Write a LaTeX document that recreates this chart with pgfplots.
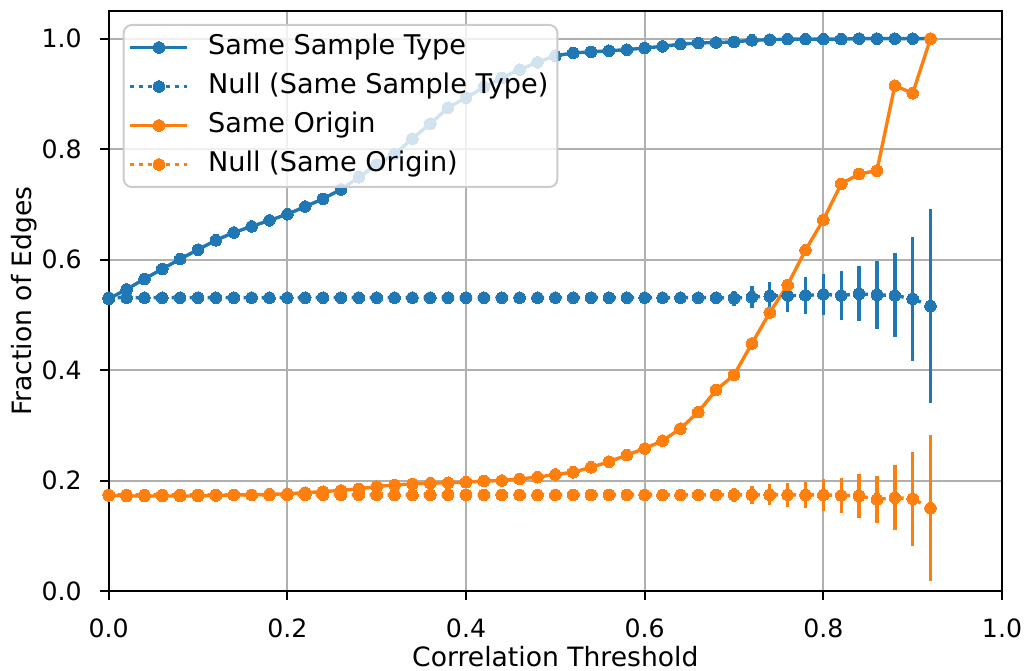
\documentclass[border=0pt]{standalone}
\usepackage{fontspec}
\setmainfont{DejaVu Sans}
\usepackage{pgfplots}
\usepackage{pgfplotstable}
\pgfplotsset{compat=1.18}
\definecolor{c0}{HTML}{1F77B4}
\definecolor{c1}{HTML}{FF7F0E}
\definecolor{gridc}{HTML}{B0B0B0}

% Same Sample Type
\pgfplotstableread{
x y
0.00 0.529
0.02 0.546
0.04 0.565
0.06 0.583
0.08 0.601
0.10 0.618
0.12 0.635
0.14 0.649
0.16 0.660
0.18 0.671
0.20 0.682
0.22 0.696
0.24 0.710
0.26 0.727
0.28 0.749
0.30 0.772
0.32 0.791
0.34 0.819
0.36 0.846
0.38 0.875
0.40 0.893
0.42 0.912
0.44 0.929
0.46 0.944
0.48 0.957
0.50 0.969
0.52 0.974
0.54 0.976
0.56 0.978
0.58 0.980
0.60 0.983
0.62 0.986
0.64 0.990
0.66 0.992
0.68 0.993
0.70 0.994
0.72 0.997
0.74 0.998
0.76 0.999
0.78 0.999
0.80 0.999
0.82 0.999
0.84 1.000
0.86 1.000
0.88 1.000
0.90 1.000
0.92 1.000
}\sst

% Null (Same Sample Type)
\pgfplotstableread{
x y e
0.00 0.531 0.001
0.02 0.531 0.001
0.04 0.531 0.001
0.06 0.531 0.001
0.08 0.531 0.001
0.10 0.531 0.001
0.12 0.531 0.001
0.14 0.531 0.001
0.16 0.531 0.001
0.18 0.531 0.001
0.20 0.531 0.001
0.22 0.531 0.001
0.24 0.531 0.001
0.26 0.531 0.001
0.28 0.531 0.001
0.30 0.531 0.001
0.32 0.531 0.002
0.34 0.531 0.002
0.36 0.531 0.002
0.38 0.531 0.002
0.40 0.531 0.002
0.42 0.531 0.002
0.44 0.531 0.002
0.46 0.531 0.003
0.48 0.531 0.003
0.50 0.531 0.003
0.52 0.531 0.003
0.54 0.531 0.003
0.56 0.531 0.004
0.58 0.531 0.004
0.60 0.531 0.005
0.62 0.531 0.006
0.64 0.531 0.007
0.66 0.531 0.010
0.68 0.531 0.011
0.70 0.530 0.0135
0.72 0.532 0.020
0.74 0.534 0.025
0.76 0.535 0.030
0.78 0.535 0.033
0.80 0.537 0.037
0.82 0.535 0.044
0.84 0.538 0.050
0.86 0.536 0.061
0.88 0.535 0.076
0.90 0.529 0.112
0.92 0.516 0.175
}\nsst

% Same Origin
\pgfplotstableread{
x y
0.00 0.173
0.02 0.172
0.04 0.172
0.06 0.172
0.08 0.172
0.10 0.172
0.12 0.173
0.14 0.174
0.16 0.174
0.18 0.175
0.20 0.176
0.22 0.178
0.24 0.180
0.26 0.182
0.28 0.185
0.30 0.189
0.32 0.192
0.34 0.194
0.36 0.195
0.38 0.196
0.40 0.197
0.42 0.199
0.44 0.200
0.46 0.203
0.48 0.206
0.50 0.211
0.52 0.215
0.54 0.224
0.56 0.234
0.58 0.246
0.60 0.258
0.62 0.272
0.64 0.294
0.66 0.324
0.68 0.364
0.70 0.391
0.72 0.448
0.74 0.504
0.76 0.554
0.78 0.617
0.80 0.672
0.82 0.737
0.84 0.755
0.86 0.761
0.88 0.915
0.90 0.901
0.92 1.000
}\so

% Null (Same Origin)
\pgfplotstableread{
x y e
0.00 0.174 0.001
0.02 0.174 0.001
0.04 0.174 0.001
0.06 0.174 0.001
0.08 0.174 0.001
0.10 0.174 0.001
0.12 0.174 0.001
0.14 0.174 0.001
0.16 0.174 0.001
0.18 0.174 0.001
0.20 0.174 0.001
0.22 0.174 0.001
0.24 0.174 0.001
0.26 0.174 0.001
0.28 0.174 0.001
0.30 0.174 0.001
0.32 0.174 0.002
0.34 0.174 0.002
0.36 0.174 0.002
0.38 0.174 0.002
0.40 0.174 0.002
0.42 0.174 0.002
0.44 0.174 0.002
0.46 0.174 0.002
0.48 0.174 0.003
0.50 0.174 0.003
0.52 0.174 0.003
0.54 0.174 0.003
0.56 0.174 0.003
0.58 0.174 0.003
0.60 0.174 0.004
0.62 0.174 0.004
0.64 0.174 0.006
0.66 0.174 0.008
0.68 0.174 0.009
0.70 0.174 0.013
0.72 0.174 0.016
0.74 0.174 0.019
0.76 0.174 0.022
0.78 0.174 0.024
0.80 0.174 0.029
0.82 0.173 0.032
0.84 0.172 0.039
0.86 0.166 0.043
0.88 0.169 0.059
0.90 0.167 0.085
0.92 0.150 0.132
}\nso

\begin{document}
\begin{tikzpicture}
\begin{axis}[
    scale only axis, width=446.65pt, height=290pt,
    xmin=0, xmax=1, ymin=0, ymax=1.05,
    xtick={0,0.2,0.4,0.6,0.8,1}, xticklabels={0.0,0.2,0.4,0.6,0.8,1.0},
    ytick={0,0.2,0.4,0.6,0.8,1}, yticklabels={0.0,0.2,0.4,0.6,0.8,1.0},
    xtick pos=bottom, ytick pos=left, tick align=outside,
    major tick length=4.4pt,
    tick style={black, line width=1pt},
    axis line style={line width=1pt},
    grid=major, grid style={gridc, line width=1pt},
    tick label style={font=\fontsize{12.6}{15}\selectfont},
    xticklabel style={yshift=-6pt},
    yticklabel style={xshift=-5.6pt},
    label style={font=\fontsize{13.3}{16}\selectfont},
    xlabel={Correlation Threshold},
    ylabel={Fraction of Edges},
    xlabel style={at={(axis description cs:0.5,-0.1293)}, anchor=base},
    ylabel style={at={(axis description cs:-0.0864,0.5)}, anchor=base},
    legend cell align=left,
    legend image code/.code={\draw[mark repeat=2,mark phase=2,fill opacity=1,draw opacity=1,#1] plot coordinates {(0pt,0pt) (14.25pt,0pt) (28.5pt,0pt)};},
    legend style={
        at={(0.0157,0.9776)}, anchor=north west,
        draw=black!20, line width=1pt, rounded corners=4pt,
        fill=white, fill opacity=0.8, text opacity=1,
        font=\fontsize{13.55}{16}\selectfont,
        inner xsep=2.5pt, inner ysep=1.5pt, row sep=0pt,
        nodes={inner xsep=2pt, inner ysep=3.4pt, text height=9.8pt, text depth=2.9pt},
        /tikz/every odd column/.append style={column sep=7.5pt},
        /tikz/every even column/.append style={column sep=3pt},
    },
]
\addplot[c0, line width=1.7pt, mark=*, mark size=2.9pt, mark options={solid, fill=c0, line width=0pt}]
    table[x=x, y=y] {\sst};
\addlegendentry{Same Sample Type}

\addplot[c0, line width=1.7pt, dash pattern=on 1.7pt off 2.8pt, mark=*, mark size=2.9pt,
    mark options={solid, fill=c0, line width=0pt},
    error bars/.cd, y dir=both, y explicit, error mark=none,
    error bar style={solid, c0, line width=1.7pt}]
    table[x=x, y=y, y error=e] {\nsst};
\addlegendentry{Null (Same Sample Type)}

\addplot[c1, line width=1.7pt, mark=*, mark size=2.9pt, mark options={solid, fill=c1, line width=0pt}]
    table[x=x, y=y] {\so};
\addlegendentry{Same Origin}

\addplot[c1, line width=1.7pt, dash pattern=on 1.7pt off 2.8pt, mark=*, mark size=2.9pt,
    mark options={solid, fill=c1, line width=0pt},
    error bars/.cd, y dir=both, y explicit, error mark=none,
    error bar style={solid, c1, line width=1.7pt}]
    table[x=x, y=y, y error=e] {\nso};
\addlegendentry{Null (Same Origin)}
\end{axis}
\pgfresetboundingbox
\useasboundingbox ([xshift=-54.35pt,yshift=-39.5pt]current axis.south west) rectangle ([xshift=11.5pt,yshift=5.5pt]current axis.north east);
\end{tikzpicture}
\end{document}
